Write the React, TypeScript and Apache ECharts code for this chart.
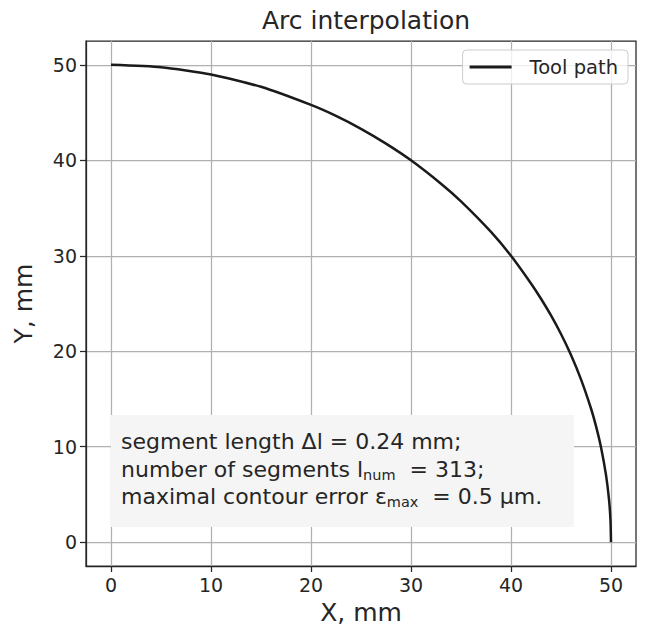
import React, { useEffect, useRef } from "react";
import * as echarts from "echarts";

const titleText = "Arc interpolation";
const seriesName = "Tool path";
const pathX = [0, 5, 10, 15, 20, 22.5, 25, 27.5, 30, 33, 35, 38, 40, 42, 43, 44, 45, 46, 47, 48, 48.5, 49, 49.5, 49.8, 49.95, 50];
const pathY = [50, 49.75, 49, 47.7, 45.8, 44.65, 43.3, 41.75, 40, 37.55, 35.7, 32.5, 30, 27.1, 25.5, 23.75, 21.8, 19.6, 17.05, 14, 12.15, 9.95, 7.05, 4.47, 2.23, 0];
const xTicks = [0, 10, 20, 30, 40, 50];
const yTicks = [0, 10, 20, 30, 40, 50];
const annotationLines = [
  "segment length Δl = 0.24 mm;",
  "number of segments l{sub|num}  = 313;",
  "maximal contour error ε{sub|max}  = 0.5 μm.",
];

const FONT = "DejaVu Sans";
const DARK = "#262626";

export default function App() {
  const ref = useRef<HTMLDivElement>(null);
  useEffect(() => {
    if (!ref.current) return;
    const chart = echarts.init(ref.current, null, { renderer: "svg" });
    const data = pathX.map((x, i) => [x, pathY[i]]);
    const axisCommon = {
      type: "value" as const,
      min: -2.5,
      max: 52.5,
      interval: 10,
      axisLine: { show: true, onZero: false, lineStyle: { color: DARK, width: 1.25 } },
      axisTick: { show: true, inside: false, length: 6, lineStyle: { color: DARK, width: 1.25 } },
      axisLabel: {
        color: DARK,
        fontSize: 19,
        fontFamily: FONT,
        margin: 9,
      },
      splitLine: { show: true, lineStyle: { color: "#b0b0b0", width: 1.25 } },
      nameTextStyle: { color: DARK, fontSize: 25, fontFamily: FONT },
      nameLocation: "middle" as const,
    };
    chart.setOption({
      animation: false,
      backgroundColor: "#ffffff",
      title: {
        text: titleText,
        left: 361,
        top: 3,
        textAlign: "center",
        textStyle: { color: DARK, fontSize: 25, fontWeight: "normal", fontFamily: FONT },
      },
      grid: {
        left: 86,
        right: 9,
        top: 41,
        bottom: 64,
        show: true,
        borderColor: DARK,
        borderWidth: 1.25,
        backgroundColor: "transparent",
      },
      legend: {
        right: 17,
        top: 50,
        icon: "rect",
        itemWidth: 42,
        itemHeight: 3,
        itemGap: 10,
        padding: [7, 10, 7, 7],
        backgroundColor: "rgba(255,255,255,0.8)",
        borderColor: "#cccccc",
        borderWidth: 1,
        borderRadius: 4,
        textStyle: { color: DARK, fontSize: 19.5, fontFamily: FONT, padding: [0, 0, 0, 13] },
        data: [{ name: seriesName, itemStyle: { color: "#1a1a1a" } }],
      },
      xAxis: {
        ...axisCommon,
        name: "X, mm",
        nameGap: 34,
        axisTick: { ...axisCommon.axisTick, customValues: xTicks },
        axisLabel: { ...axisCommon.axisLabel, customValues: xTicks },
      },
      yAxis: {
        ...axisCommon,
        name: "Y, mm",
        nameGap: 50,
        axisTick: { ...axisCommon.axisTick, customValues: yTicks },
        axisLabel: { ...axisCommon.axisLabel, customValues: yTicks },
      },
      series: [
        {
          name: seriesName,
          type: "line",
          data,
          showSymbol: false,
          smooth: 0.2,
          lineStyle: { color: "#1a1a1a", width: 2.5 },
          itemStyle: { color: "#1a1a1a" },
          z: 5,
        },
      ],
      graphic: [
        {
          type: "rect",
          left: 111,
          top: 415,
          shape: { width: 463, height: 112 },
          style: { fill: "#f5f5f5" },
          z: 10,
        },
        {
          type: "text",
          left: 121,
          top: 428,
          z: 11,
          style: {
            text: annotationLines.join("\n"),
            fill: DARK,
            fontSize: 22,
            fontFamily: FONT,
            lineHeight: 27.5,
            rich: {
              sub: { fontSize: 14.5, fontFamily: FONT, fill: DARK, padding: [11, 0, 0, 0], lineHeight: 27.5 },
            },
          },
        },
      ],
    });
    return () => chart.dispose();
  }, []);
  return <div ref={ref} style={{ width: 645, height: 630, position: "absolute", left: 0, top: 0 }} />;
}
